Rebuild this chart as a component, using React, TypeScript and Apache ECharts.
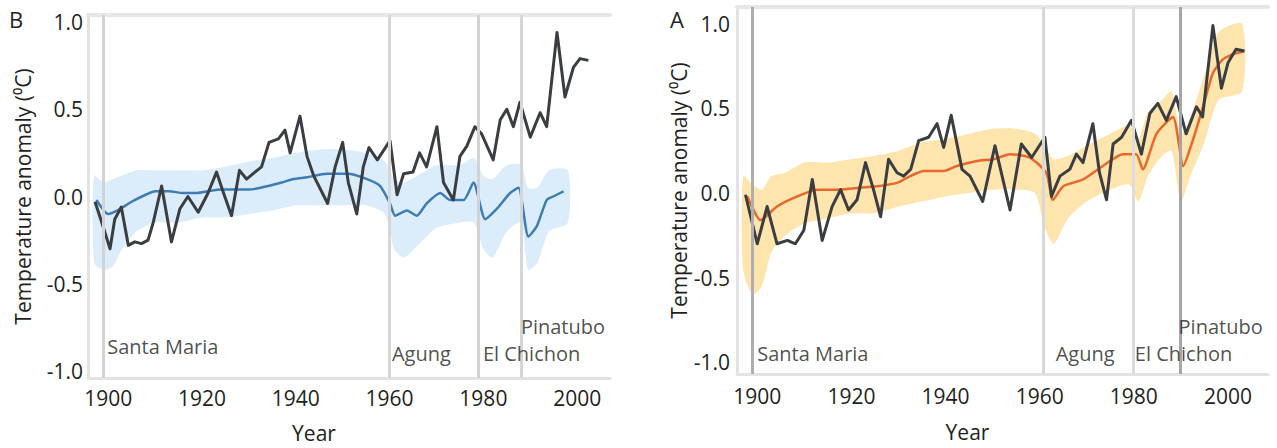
import React, { useEffect, useRef } from "react";
import * as echarts from "echarts";

const FONT = '"Open Sans", "Noto Sans", sans-serif';
const TXT = "#231f20";

// ---------- tick labels ----------
const xTicks = [1900, 1920, 1940, 1960, 1980, 2000];
const yTicks = [-1.0, -0.5, 0.0, 0.5, 1.0];

// ---------- volcanoes ----------
const volcanoNames = ["Santa Maria", "Agung", "El Chichon", "Pinatubo"];
const volcanoYearsB = [1899, 1960, 1979, 1988];
const volcanoYearsA = [1899, 1960.7, 1979.8, 1989.8];

// ---------- panel B (natural forcings) ----------
const obsYearsB = [1897.2, 1898.9, 1900.4, 1901.4, 1902.8, 1904.3, 1905.7, 1907.1, 1908.5, 1909.6, 1911.4, 1913.5, 1915.3, 1917.0, 1919.2, 1921.3, 1923.1, 1924.6, 1926.3, 1928.0, 1929.5, 1931.3, 1932.7, 1934.3, 1936.3, 1937.7, 1938.8, 1940.9, 1942.4, 1943.8, 1946.8, 1948.4, 1950.0, 1951.2, 1953.0, 1954.4, 1955.6, 1957.4, 1960.1, 1961.6, 1963.0, 1965.0, 1966.4, 1967.9, 1970.1, 1971.5, 1973.6, 1975.0, 1976.5, 1978.2, 1979.6, 1982.1, 1983.6, 1985.0, 1986.4, 1987.8, 1990.0, 1992.1, 1993.5, 1995.7, 1997.4, 1999.2, 2000.6, 2002.4];
const obsValuesB = [-0.03, -0.17, -0.30, -0.13, -0.06, -0.28, -0.26, -0.27, -0.25, -0.15, 0.06, -0.26, -0.07, 0.0, -0.09, 0.02, 0.14, 0.02, -0.11, 0.15, 0.10, 0.14, 0.17, 0.31, 0.33, 0.38, 0.25, 0.46, 0.23, 0.12, -0.04, 0.17, 0.31, 0.08, -0.10, 0.17, 0.28, 0.21, 0.32, 0.01, 0.13, 0.14, 0.25, 0.17, 0.40, 0.08, -0.02, 0.23, 0.29, 0.40, 0.36, 0.21, 0.44, 0.50, 0.40, 0.54, 0.34, 0.48, 0.40, 0.94, 0.57, 0.74, 0.79, 0.78];

const modelYearsB = [1897.5, 1900, 1902, 1905, 1908, 1910, 1913, 1916, 1919, 1921.3, 1924, 1927, 1930, 1932.5, 1937, 1939.5, 1942.4, 1946.6, 1951, 1955.2, 1958, 1960.1, 1961.2, 1963.7, 1965.8, 1967.9, 1970.8, 1972.9, 1975.8, 1977.9, 1980.4, 1982.9, 1985.7, 1987.5, 1989.6, 1991.4, 1993.5, 1994.9, 1997.1];
const modelValuesB = [-0.02, -0.10, -0.08, -0.03, 0.01, 0.03, 0.03, 0.02, 0.02, 0.03, 0.04, 0.04, 0.04, 0.05, 0.08, 0.10, 0.11, 0.13, 0.13, 0.10, 0.06, -0.04, -0.11, -0.08, -0.11, -0.04, 0.02, -0.02, -0.02, 0.08, -0.13, -0.07, 0.02, 0.05, -0.23, -0.17, -0.02, 0.0, 0.03];

const bandYearsB = [1897, 1899, 1901, 1903, 1906, 1910, 1915, 1920, 1925, 1930, 1935, 1940, 1945, 1950, 1955, 1959, 1961, 1963, 1966, 1970, 1975, 1978, 1980, 1982, 1985, 1988, 1989.5, 1991.5, 1994, 1998];
const bandLowB = [-0.38, -0.42, -0.40, -0.30, -0.20, -0.15, -0.15, -0.12, -0.12, -0.10, -0.08, -0.05, -0.05, -0.05, -0.05, -0.10, -0.30, -0.35, -0.28, -0.18, -0.15, -0.15, -0.30, -0.35, -0.20, -0.15, -0.42, -0.38, -0.20, -0.15];
const bandHighB = [0.12, 0.08, 0.10, 0.12, 0.15, 0.15, 0.15, 0.15, 0.17, 0.20, 0.22, 0.25, 0.27, 0.27, 0.25, 0.20, 0.10, 0.08, 0.12, 0.18, 0.18, 0.22, 0.12, 0.10, 0.18, 0.18, 0.05, 0.05, 0.15, 0.15];

// ---------- panel A (all forcings) ----------
const obsYearsA = [1897.5, 1900.0, 1902.1, 1904.2, 1906.4, 1908.1, 1909.9, 1911.7, 1913.8, 1915.9, 1917.7, 1919.4, 1921.2, 1923.0, 1924.7, 1926.2, 1927.9, 1929.7, 1931.1, 1932.6, 1934.3, 1936.4, 1938.2, 1939.6, 1941.2, 1943.5, 1945.2, 1947.9, 1950.5, 1953.7, 1956.1, 1958.3, 1961.1, 1962.5, 1964.3, 1966.4, 1967.8, 1969.2, 1971.3, 1972.7, 1974.2, 1975.6, 1977.4, 1979.5, 1981.6, 1983.4, 1985.1, 1986.9, 1989.0, 1991.1, 1993.3, 1994.6, 1996.8, 1998.6, 2000.0, 2001.7, 2003.5];
const obsValuesA = [-0.01, -0.30, -0.08, -0.30, -0.28, -0.30, -0.22, 0.08, -0.28, -0.08, 0.02, -0.10, -0.04, 0.18, 0.02, -0.14, 0.20, 0.12, 0.10, 0.14, 0.31, 0.33, 0.41, 0.27, 0.46, 0.14, 0.10, -0.05, 0.28, -0.10, 0.29, 0.21, 0.33, -0.02, 0.10, 0.14, 0.23, 0.18, 0.41, 0.12, -0.04, 0.29, 0.33, 0.43, 0.23, 0.47, 0.53, 0.43, 0.57, 0.35, 0.51, 0.45, 0.99, 0.62, 0.77, 0.85, 0.84];

const modelYearsA = [1897.9, 1900.7, 1904.2, 1908.5, 1912.7, 1917, 1921.2, 1925.5, 1929.7, 1932.5, 1935.4, 1939.6, 1942.4, 1946.7, 1950.2, 1953.7, 1957.9, 1961.4, 1962.8, 1965, 1969.2, 1973.4, 1977.7, 1980.5, 1981.9, 1984.8, 1988.3, 1990.5, 1992.5, 1994.7, 1996.8, 1998.9, 2001, 2003.5];
const modelValuesA = [-0.02, -0.16, -0.08, -0.02, 0.02, 0.02, 0.03, 0.04, 0.06, 0.10, 0.13, 0.13, 0.16, 0.19, 0.20, 0.23, 0.21, 0.12, -0.04, 0.04, 0.08, 0.16, 0.23, 0.23, 0.14, 0.35, 0.45, 0.16, 0.31, 0.51, 0.71, 0.79, 0.82, 0.84];

const bandYearsA = [1897, 1899, 1901, 1903, 1906, 1910, 1915, 1920, 1925, 1930, 1935, 1940, 1945, 1950, 1955, 1959, 1961, 1963, 1966, 1970, 1975, 1979, 1981, 1983, 1986, 1988, 1990, 1992, 1995, 1998, 2003];
const bandLowA = [-0.45, -0.60, -0.55, -0.35, -0.25, -0.18, -0.15, -0.12, -0.12, -0.08, -0.05, -0.02, 0.0, 0.02, 0.02, 0.0, -0.20, -0.30, -0.15, -0.05, 0.02, 0.05, -0.05, 0.10, 0.22, 0.25, -0.05, 0.10, 0.30, 0.55, 0.60];
const bandHighA = [0.10, 0.05, 0.02, 0.10, 0.12, 0.18, 0.18, 0.20, 0.22, 0.25, 0.30, 0.32, 0.35, 0.38, 0.38, 0.35, 0.28, 0.20, 0.22, 0.28, 0.35, 0.40, 0.32, 0.48, 0.55, 0.60, 0.35, 0.45, 0.70, 0.95, 1.00];

// ---------- layout constants ----------
const labelAnchorsB = [[1899.8, -0.862], [1960.5, -0.897], [1979.9, -0.897], [1988.0, -0.745]];
const labelAnchorsA = [[1900.0, -0.946], [1963.4, -0.946], [1980.2, -0.946], [1989.5, -0.79]];
const volcanoColorsB = ["#d3d3d3", "#d6d6d6", "#d3d3d3", "#d6d6d6"];
const volcanoColorsA = ["#aeaeae", "#d8d8d8", "#dcdcdc", "#a6a6a6"];

const pairs = (xs: number[], ys: number[]) => xs.map((x, i) => [x, ys[i]]);

function bandSeries(idx: number, years: number[], low: number[], high: number[], color: string, opacity: number) {
  return {
    type: "custom",
    xAxisIndex: idx,
    yAxisIndex: idx,
    silent: true,
    clip: true,
    z: 2,
    data: years.map((y, i) => [y, low[i], high[i]]),
    encode: { x: 0, y: [1, 2] },
    renderItem: (params: any, api: any) => {
      if (params.dataIndex !== 0) return null;
      const top = years.map((y, i) => api.coord([y, high[i]]));
      const bot = years.map((y, i) => api.coord([y, low[i]])).reverse();
      return {
        type: "polygon",
        shape: { points: top.concat(bot), smooth: 0.25 },
        style: { fill: color, opacity },
      };
    },
  };
}

function panelSeries(
  idx: number,
  volcanoYears: number[],
  volcanoColors: string[],
  anchors: number[][],
  bandYears: number[],
  bandLow: number[],
  bandHigh: number[],
  bandColor: string,
  bandOpacity: number,
  modelYears: number[],
  modelValues: number[],
  modelColor: string,
  obsYears: number[],
  obsValues: number[]
) {
  const axes = { xAxisIndex: idx, yAxisIndex: idx };
  return [
    {
      type: "line",
      ...axes,
      data: [],
      z: 1,
      markLine: {
        silent: true,
        symbol: ["none", "none"],
        label: { show: false },
        data: volcanoYears.map((y, i) => ({
          xAxis: y,
          lineStyle: { color: volcanoColors[i], width: 3, type: "solid" },
        })),
      },
    },
    bandSeries(idx, bandYears, bandLow, bandHigh, bandColor, bandOpacity),
    {
      type: "line",
      ...axes,
      data: pairs(modelYears, modelValues),
      symbol: "none",
      smooth: 0.2,
      lineStyle: { color: modelColor, width: 2.5 },
      z: 3,
    },
    {
      type: "line",
      ...axes,
      data: pairs(obsYears, obsValues),
      symbol: "none",
      lineStyle: { color: "#3b3e41", width: 3, join: "round" },
      z: 4,
    },
    {
      type: "scatter",
      ...axes,
      data: anchors.map((a, i) => [a[0], a[1], volcanoNames[i]]),
      symbolSize: 0,
      silent: true,
      z: 5,
      label: {
        show: true,
        position: "right",
        distance: 0,
        formatter: (p: any) => p.data[2],
        fontSize: 20,
        lineHeight: 19,
        fontFamily: FONT,
        color: TXT,
      },
    },
  ];
}

function makeXAxis(idx: number, min: number, max: number, gap: number, margin: number) {
  return {
    type: "value",
    gridIndex: idx,
    min,
    max,
    axisLine: { show: true, onZero: false, lineStyle: { color: "#e3e3e3", width: 3 } },
    axisTick: { show: false },
    splitLine: { show: false },
    axisLabel: {
      customValues: xTicks,
      formatter: (v: number) => String(v),
      fontSize: 21,
      fontFamily: FONT,
      color: TXT,
      margin,
    },
    name: "Year",
    nameLocation: "middle",
    nameGap: gap,
    nameTextStyle: { fontSize: 21, fontFamily: FONT, color: TXT, padding: [0, 70, 0, 0] },
  };
}

function makeTopAxis(idx: number, min: number, max: number) {
  return {
    type: "value",
    gridIndex: idx,
    position: "top",
    min,
    max,
    axisLine: { show: true, onZero: false, lineStyle: { color: "#e6e6e6", width: 4 } },
    axisTick: { show: false },
    axisLabel: { show: false },
    splitLine: { show: false },
  };
}

function makeYAxis(idx: number, min: number, max: number, gap: number, margin: number) {
  return {
    type: "value",
    gridIndex: idx,
    min,
    max,
    axisLine: { show: true, onZero: false, lineStyle: { color: "#e3e3e3", width: 3 } },
    axisTick: { show: false },
    splitLine: { show: false },
    axisLabel: {
      customValues: yTicks,
      formatter: (v: number) => v.toFixed(1),
      fontSize: 21,
      fontFamily: FONT,
      color: TXT,
      margin,
    },
    name: "Temperature anomaly (⁰C)",
    nameLocation: "middle",
    nameGap: gap,
    nameTextStyle: { fontSize: 21, fontFamily: FONT, color: TXT },
  };
}

export default function App() {
  const ref = useRef<HTMLDivElement>(null);
  useEffect(() => {
    if (!ref.current) return;
    const chart = echarts.init(ref.current, undefined, { renderer: "svg" });
    chart.setOption({
      animation: false,
      backgroundColor: "#ffffff",
      title: [
        { text: "B", left: 9, top: 8, padding: 0, textStyle: { fontSize: 22, fontWeight: "normal", fontFamily: FONT, color: TXT } },
        { text: "A", left: 670, top: 8, padding: 0, textStyle: { fontSize: 22, fontWeight: "normal", fontFamily: FONT, color: TXT } },
      ],
      grid: [
        { left: 88, top: 15, width: 522, height: 363 },
        { left: 737, top: 7, width: 531, height: 367 },
      ],
      xAxis: [
        makeXAxis(0, 1895.7, 2007, 44, 9),
        makeXAxis(1, 1895.7, 2008.5, 47, 11),
        makeTopAxis(0, 1895.7, 2007),
        makeTopAxis(1, 1895.7, 2008.5),
      ],
      yAxis: [makeYAxis(0, -1.04, 1.04, 55, 5), makeYAxis(1, -1.07, 1.1, 46, 7)],
      series: [
        ...panelSeries(0, volcanoYearsB, volcanoColorsB, labelAnchorsB, bandYearsB, bandLowB, bandHighB, "#cfe7f8", 0.75, modelYearsB, modelValuesB, "#3d7cb5", obsYearsB, obsValuesB),
        ...panelSeries(1, volcanoYearsA, volcanoColorsA, labelAnchorsA, bandYearsA, bandLowA, bandHighA, "#fdd98a", 0.7, modelYearsA, modelValuesA, "#e8672c", obsYearsA, obsValuesA),
      ],
    });
    return () => chart.dispose();
  }, []);
  return <div ref={ref} style={{ position: "fixed", left: 0, top: 0, width: 1277, height: 448 }} />;
}
